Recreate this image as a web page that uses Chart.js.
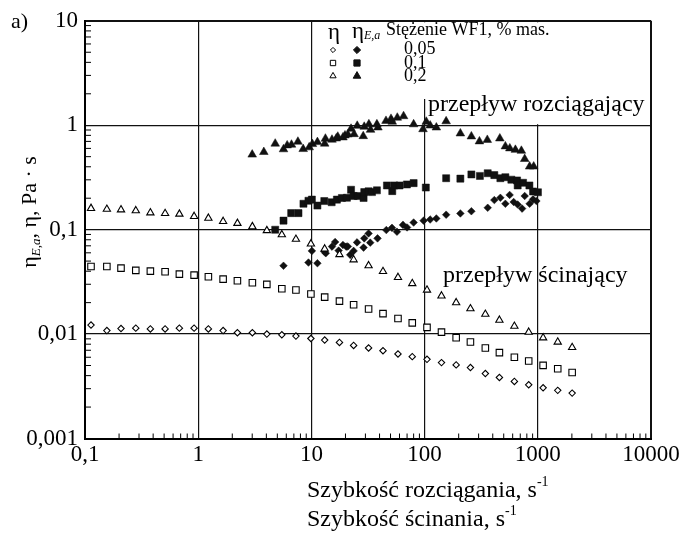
<!DOCTYPE html>
<html>
<head>
<meta charset="utf-8">
<script src="https://cdn.jsdelivr.net/npm/chart.js@4.4.0/dist/chart.umd.min.js"></script>
<style>
  html, body { margin: 0; padding: 0; background: #fff; }
  canvas { display: block; }
</style>
</head>
<body>
<canvas id="chart" width="695" height="533"></canvas>
<script>
// shear rate, s^-1 (shared by the three open series)
const shearRate = [0.113, 0.156, 0.208, 0.281, 0.378, 0.510, 0.682, 0.920, 1.23, 1.66, 2.22, 3.01, 4.04, 5.48, 7.30, 9.90,
  13.1, 17.7, 23.6, 32.0, 42.9, 58.2, 77.8, 105, 141, 190, 254, 344, 458, 621, 831, 1114, 1500, 2011];

// eta (shear viscosity), Pa·s
const etaShear005 = [0.0122, 0.0108, 0.0113, 0.0114, 0.0112, 0.0112, 0.0114, 0.0114, 0.0112, 0.0108, 0.0103, 0.0103, 0.0100, 0.00984, 0.00957, 0.00907,
  0.00877, 0.00832, 0.00779, 0.00736, 0.00693, 0.00645, 0.00608, 0.00573, 0.00533, 0.00507, 0.00478, 0.00419, 0.00384, 0.00352, 0.00327, 0.00306, 0.00289, 0.00272];
const etaShear01 = [0.0444, 0.0444, 0.0428, 0.0407, 0.0401, 0.0395, 0.0375, 0.0367, 0.0354, 0.0336, 0.0324, 0.0310, 0.0299, 0.0272, 0.0264, 0.0242,
  0.0226, 0.0207, 0.0191, 0.0174, 0.0157, 0.0141, 0.0128, 0.0116, 0.01045, 0.00922, 0.00839, 0.00736, 0.00664, 0.00599, 0.00553, 0.00502, 0.00465, 0.00428];
const etaShear02 = [0.160, 0.157, 0.155, 0.152, 0.145, 0.143, 0.141, 0.134, 0.129, 0.120, 0.115, 0.107, 0.098, 0.0896, 0.081, 0.073,
  0.0654, 0.0578, 0.0515, 0.0452, 0.0398, 0.0349, 0.0305, 0.0264, 0.0232, 0.0200, 0.0175, 0.0155, 0.0136, 0.0119, 0.01044, 0.00922, 0.00839, 0.00745];

// eta_E,a (extensional viscosity) with its own rates
const ext005Rate = [5.67, 9.42, 10.1, 11.3, 13.0, 13.4, 15.2, 16.2, 17.4, 19.0, 20.3, 21.0, 22.0, 23.6, 25.3, 28.9, 29.3, 32.0, 33.1, 38.4,
  45.9, 51.5, 57.0, 64.4, 70.0, 80.0, 98.0, 112, 127, 155, 207, 259, 361, 413, 467, 517, 564, 612, 664, 727, 766, 847, 908, 972];
const ext005Eta = [0.0451, 0.0484, 0.0626, 0.0477, 0.0616, 0.0594, 0.0688, 0.0762, 0.0630, 0.0714, 0.0688, 0.0690, 0.0574, 0.0626, 0.0755, 0.0673, 0.0825, 0.0920, 0.0751, 0.0825,
  0.0991, 0.104, 0.0955, 0.111, 0.105, 0.117, 0.122, 0.125, 0.128, 0.139, 0.143, 0.150, 0.162, 0.192, 0.202, 0.177, 0.215, 0.184, 0.174, 0.159, 0.210, 0.177, 0.195, 0.188];

const ext01Rate = [4.79, 5.67, 6.63, 7.69, 8.51, 9.42, 10.1, 11.3, 13.0, 15.1, 16.8, 18.6, 20.6, 22.4, 23.6, 25.8, 28.9, 29.3, 32.0, 34.3,
  37.9, 46.5, 51.8, 54.0, 60.1, 69.8, 80.0, 102.5, 155, 207, 259, 308, 361, 413, 467, 517, 584, 656, 664, 741, 843, 908, 1003];
const ext01Eta = [0.0998, 0.122, 0.144, 0.144, 0.177, 0.189, 0.194, 0.170, 0.188, 0.183, 0.194, 0.201, 0.202, 0.241, 0.210, 0.210, 0.201, 0.229, 0.233, 0.229,
  0.238, 0.265, 0.234, 0.265, 0.265, 0.271, 0.279, 0.253, 0.311, 0.308, 0.338, 0.327, 0.347, 0.333, 0.311, 0.318, 0.301, 0.296, 0.265, 0.281, 0.265, 0.232, 0.228];

const ext02Rate = [3.00, 3.80, 4.79, 5.67, 6.11, 6.67, 7.60, 8.46, 9.56, 10.2, 11.3, 13.1, 13.3, 15.2, 16.6, 17.1, 19.0, 19.8, 21.0, 22.4,
  23.8, 25.4, 28.7, 29.3, 32.2, 33.3, 37.9, 38.7, 45.6, 50.5, 51.8, 57.4, 65.2, 80.0, 96.8, 103.5, 112, 127, 155, 207,
  259, 305, 358, 462, 517, 566, 634, 716, 766, 847, 920];
const ext02Eta = [0.523, 0.554, 0.666, 0.588, 0.641, 0.651, 0.695, 0.591, 0.614, 0.660, 0.689, 0.666, 0.743, 0.727, 0.747, 0.776, 0.764, 0.798, 0.816, 0.924,
  0.821, 0.987, 0.786, 0.966, 1.02, 0.904, 1.02, 0.951, 1.10, 1.15, 1.08, 1.18, 1.22, 1.02, 0.916, 1.08, 0.993, 0.951, 1.09, 0.834,
  0.781, 0.700, 0.723, 0.747, 0.627, 0.600, 0.581, 0.569, 0.475, 0.402, 0.402];

const concentrations = ['0,05', '0,1', '0,2'];
const xTickValues = [0.1, 1, 10, 100, 1000, 10000];
const xTickLabels = ['0,1', '1', '10', '100', '1000', '10000'];
const yTickValues = [0.001, 0.01, 0.1, 1, 10];
const yTickLabels = ['0,001', '0,01', '0,1', '1', '10'];

const serif = '"Liberation Serif", "Times New Roman", serif';
const toPoints = (xs, ys) => xs.map((x, i) => ({x: x, y: ys[i]}));

function openSeries(label, ys, style, r) {
  return {label: label, data: toPoints(shearRate, ys), pointStyle: style, pointRadius: r,
    backgroundColor: '#fff', borderColor: '#000', borderWidth: 1.1, showLine: false};
}
function filledSeries(label, xs, ys, style, r) {
  return {label: label, data: toPoints(xs, ys), pointStyle: style, pointRadius: r,
    backgroundColor: '#111', borderColor: '#111', borderWidth: 0.5, showLine: false};
}

// draws text pieces one after another (for sub/superscripts)
function drawRuns(ctx, runs, x, y) {
  runs.forEach(r => {
    ctx.font = r.font;
    ctx.fillText(r.text, x, y + (r.dy || 0));
    x += ctx.measureText(r.text).width;
  });
  return x;
}
function runsWidth(ctx, runs) {
  return runs.reduce((w, r) => { ctx.font = r.font; return w + ctx.measureText(r.text).width; }, 0);
}

const decor = {
  id: 'decor',
  beforeDatasetsDraw(chart) {
    const {ctx, chartArea: a, scales: {x, y}} = chart;
    ctx.save();
    // inner minor ticks
    ctx.strokeStyle = '#000';
    ctx.lineWidth = 1;
    ctx.beginPath();
    for (let e = -1; e < 4; e++) {
      for (let m = 2; m < 10; m++) {
        const px = x.getPixelForValue(m * Math.pow(10, e));
        ctx.moveTo(px, a.bottom); ctx.lineTo(px, a.bottom - 5);
      }
    }
    for (let e = -3; e < 1; e++) {
      for (let m = 2; m < 10; m++) {
        const py = y.getPixelForValue(m * Math.pow(10, e));
        ctx.moveTo(a.left, py); ctx.lineTo(a.left + 6, py);
      }
    }
    ctx.stroke();
    // white panels behind legend and upper label
    ctx.fillStyle = '#fff';
    const x10 = x.getPixelForValue(10), x100 = x.getPixelForValue(100), y1 = y.getPixelForValue(1);
    ctx.fillRect(x10 + 2, a.top + 1.5, a.right - x10 - 3.5, 99 - a.top - 1.5);
    ctx.fillRect(x100 + 2, 99, a.right - x100 - 3.5, y1 - 99 - 1);
    ctx.restore();
  },
  afterDraw(chart) {
    const {ctx} = chart;
    ctx.save();
    ctx.fillStyle = '#000';
    ctx.textBaseline = 'alphabetic';
    ctx.textAlign = 'left';

    // panel letter
    ctx.font = '22px ' + serif;
    ctx.fillText('a)', 11, 28);

    // legend header
    ctx.font = '23px ' + serif;
    ctx.fillText('η', 328, 39);
    drawRuns(ctx, [
      {text: 'η', font: '23px ' + serif},
      {text: 'E,a', font: 'italic 12px ' + serif, dy: 1}
    ], 352, 38);
    ctx.font = '18px ' + serif;
    ctx.fillText('Stężenie WF1, % mas.', 386, 35);

    // legend markers and labels
    const rows = [
      {y: 50, open: {pointStyle: 'rectRot', radius: 2.6}, filled: {pointStyle: 'rectRot', radius: 3.6}},
      {y: 63, open: {pointStyle: 'rect', radius: 3.8}, filled: {pointStyle: 'rect', radius: 4.4}},
      {y: 76, open: {pointStyle: 'triangle', radius: 3.6}, filled: {pointStyle: 'triangle', radius: 4.4}}
    ];
    rows.forEach((r, i) => {
      ctx.lineWidth = 1;
      ctx.strokeStyle = '#000';
      ctx.fillStyle = '#fff';
      Chart.helpers.drawPoint(ctx, Object.assign({rotation: 0, borderWidth: 1}, r.open), 333, r.y);
      ctx.fillStyle = '#111';
      ctx.strokeStyle = '#111';
      Chart.helpers.drawPoint(ctx, Object.assign({rotation: 0, borderWidth: 0.5}, r.filled), 357, r.y);
      ctx.fillStyle = '#000';
      ctx.font = '18px ' + serif;
      ctx.fillText(concentrations[i], 404, r.y + 4 + i * 0.5);
    });

    // flow annotations
    ctx.font = '24px ' + serif;
    ctx.fillText('przepływ rozciągający', 428, 111);
    ctx.fillText('przepływ ścinający', 443, 282);

    // x title, two lines
    const f = '24px ' + serif, sup = '14px ' + serif;
    drawRuns(ctx, [{text: 'Szybkość rozciągania, s', font: f}, {text: '-1', font: sup, dy: -11}], 307, 497);
    drawRuns(ctx, [{text: 'Szybkość ścinania, s', font: f}, {text: '-1', font: sup, dy: -11}], 307, 526);

    // y title, rotated
    const yRuns = [
      {text: 'η', font: '22px ' + serif},
      {text: 'E,a', font: 'italic 13px ' + serif, dy: 4},
      {text: ', η, Pa · s', font: '22px ' + serif}
    ];
    ctx.translate(36, 212);
    ctx.rotate(-Math.PI / 2);
    drawRuns(ctx, yRuns, -runsWidth(ctx, yRuns) / 2, 0);
    ctx.restore();
  }
};

const edgeWidth = (ctx, lo, hi) => (ctx.tick && (ctx.tick.value === lo || ctx.tick.value === hi)) ? 2 : 1.2;

new Chart(document.getElementById('chart'), {
  type: 'scatter',
  data: {
    datasets: [
      openSeries('η 0,05', etaShear005, 'rectRot', 3.2),
      openSeries('η 0,1', etaShear01, 'rect', 4.6),
      openSeries('η 0,2', etaShear02, 'triangle', 4.2),
      filledSeries('ηE,a 0,05', ext005Rate, ext005Eta, 'rectRot', 3.8),
      filledSeries('ηE,a 0,1', ext01Rate, ext01Eta, 'rect', 5),
      filledSeries('ηE,a 0,2', ext02Rate, ext02Eta, 'triangle', 5)
    ]
  },
  options: {
    responsive: false,
    animation: false,
    events: [],
    layout: {padding: {top: 17.5, right: 44, left: 0, bottom: 0}},
    plugins: {legend: {display: false}, tooltip: {enabled: false}},
    scales: {
      x: {
        type: 'logarithmic',
        min: 0.1,
        max: 10000,
        afterBuildTicks: s => { s.ticks = xTickValues.map(v => ({value: v})); },
        afterFit: s => { s.height = 94.5; },
        ticks: {
          callback: (v, i) => xTickLabels[i],
          font: {family: serif, size: 23},
          color: '#000',
          padding: 3,
          maxRotation: 0,
          autoSkip: false
        },
        grid: {color: '#111', lineWidth: ctx => edgeWidth(ctx, 0.1, 10000), drawTicks: false},
        border: {display: true, color: '#000', width: 2}
      },
      y: {
        type: 'logarithmic',
        min: 0.001,
        max: 10,
        afterBuildTicks: s => { s.ticks = yTickValues.map(v => ({value: v})); },
        afterFit: s => { s.width = 85; },
        ticks: {
          callback: (v, i) => yTickLabels[i],
          font: {family: serif, size: 23},
          color: '#000',
          padding: 7,
          autoSkip: false
        },
        grid: {color: '#111', lineWidth: ctx => edgeWidth(ctx, 0.001, 10), drawTicks: false},
        border: {display: true, color: '#000', width: 2}
      }
    }
  },
  plugins: [decor]
});
</script>
</body>
</html>
